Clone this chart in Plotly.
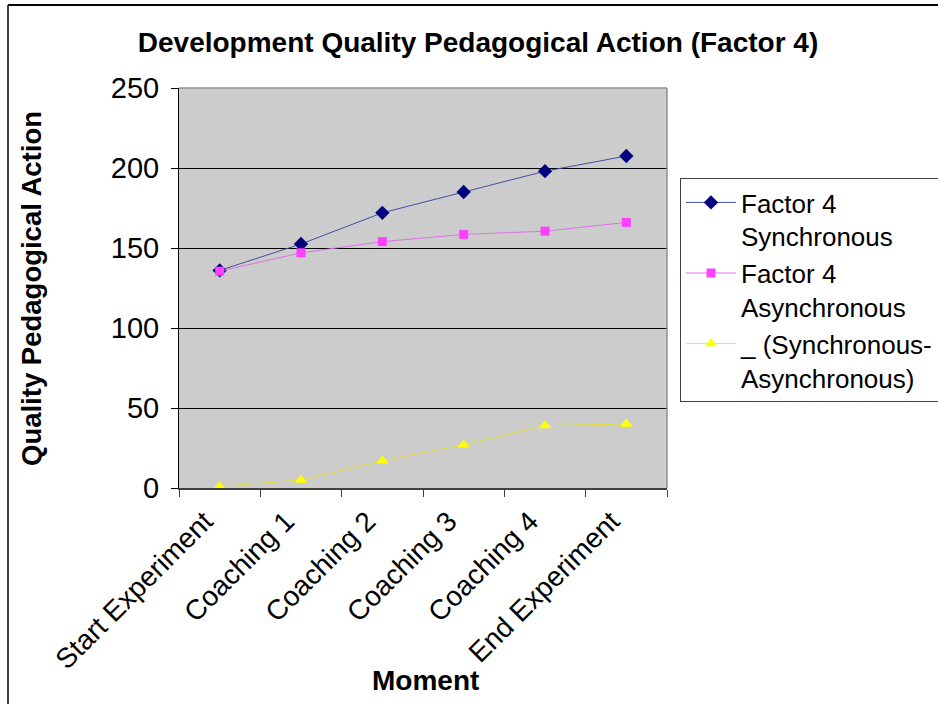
import plotly.graph_objects as go

categories = ["Start Experiment", "Coaching 1", "Coaching 2", "Coaching 3", "Coaching 4", "End Experiment"]
synchronous = [136, 152.5, 172, 185, 198, 207.5]
asynchronous = [135.5, 147, 154, 158.5, 160.5, 166]
difference = [1, 5, 17, 27, 39, 40]

names = ["Factor 4<br>Synchronous", "Factor 4<br>Asynchronous", "_ (Synchronous-<br>Asynchronous)"]
y_ticks = [0, 50, 100, 150, 200, 250]

W, H = 938, 704
L, R, T, B = 179, 667, 88, 488
font = "Liberation Sans, Arial, sans-serif"

fig = go.Figure()
fig.add_trace(go.Scatter(x=categories, y=synchronous, name=names[0], mode="lines+markers",
                         line=dict(color="#4050A0", width=1),
                         marker=dict(symbol="diamond", size=11, color="#000080")))
fig.add_trace(go.Scatter(x=categories, y=asynchronous, name=names[1], mode="lines+markers",
                         line=dict(color="#E070E8", width=1),
                         marker=dict(symbol="square", size=9, color="#FF40FF")))
fig.add_trace(go.Scatter(x=categories, y=difference, name=names[2], mode="lines+markers",
                         line=dict(color="#E8E040", width=1),
                         marker=dict(symbol="triangle-up", size=11, color="#FFFF00")))

def px(xp):
    return (xp - L) / (R - L)

def py(yp):
    return (B - yp) / (B - T)

fig.update_layout(
    width=W, height=H,
    margin=dict(l=L, r=W - R, t=T, b=H - B, autoexpand=False),
    paper_bgcolor="white", plot_bgcolor="#CCCCCC",
    font=dict(family=font, size=28, color="black"),
    title=dict(text="<b>Development Quality Pedagogical Action (Factor 4)</b>",
               x=478 / W, xanchor="center", y=1 - 42 / H, yanchor="middle",
               font=dict(size=28)),
    showlegend=True,
    legend=dict(x=px(680), xanchor="left", y=py(178), yanchor="top",
                bordercolor="#404040", borderwidth=1, bgcolor="white",
                font=dict(size=26), tracegroupgap=2, itemwidth=50, valign="top"),
    xaxis=dict(type="category", range=[-0.5, 5.5], tickangle=-45, tickson="boundaries",
               automargin=False, ticklabelshift=-15, ticklabelstandoff=4,
               ticks="outside", ticklen=7, tickcolor="#404040",
               showline=True, linecolor="#404040", linewidth=1.5,
               showgrid=False, tickfont=dict(size=28)),
    yaxis=dict(range=[0, 250], tickvals=y_ticks, ticks="outside", ticklen=7, tickcolor="black",
               automargin=False, ticklabelstandoff=6,
               showline=True, linecolor="black", linewidth=1,
               showgrid=True, gridcolor="black", gridwidth=1, zeroline=False,
               tickfont=dict(size=29)),
    annotations=[
        dict(text="<b>Moment</b>", xref="paper", yref="paper", x=px(425), y=py(680),
             xanchor="center", yanchor="middle", showarrow=False, font=dict(size=28)),
        dict(text="<b>Quality Pedagogical Action</b>", xref="paper", yref="paper",
             x=px(31), y=py(289), xanchor="center", yanchor="middle", textangle=-90,
             showarrow=False, font=dict(size=27.5)),
    ],
    shapes=[
        dict(type="line", xref="paper", yref="paper", x0=0, x1=1, y0=1, y1=1,
             line=dict(color="#909090", width=1.5), layer="above"),
        dict(type="line", xref="paper", yref="paper", x0=1, x1=1, y0=0, y1=1,
             line=dict(color="#909090", width=1.5), layer="above"),
        dict(type="line", xref="paper", yref="paper", x0=px(8), x1=px(945), y0=py(5), y1=py(5),
             line=dict(color="black", width=2)),
        dict(type="line", xref="paper", yref="paper", x0=px(8), x1=px(8), y0=py(5), y1=py(720),
             line=dict(color="black", width=1.5)),
    ],
)

fig.write_html("out.html", config={"displayModeBar": False},
               post_script="document.body.style.margin='0';")
